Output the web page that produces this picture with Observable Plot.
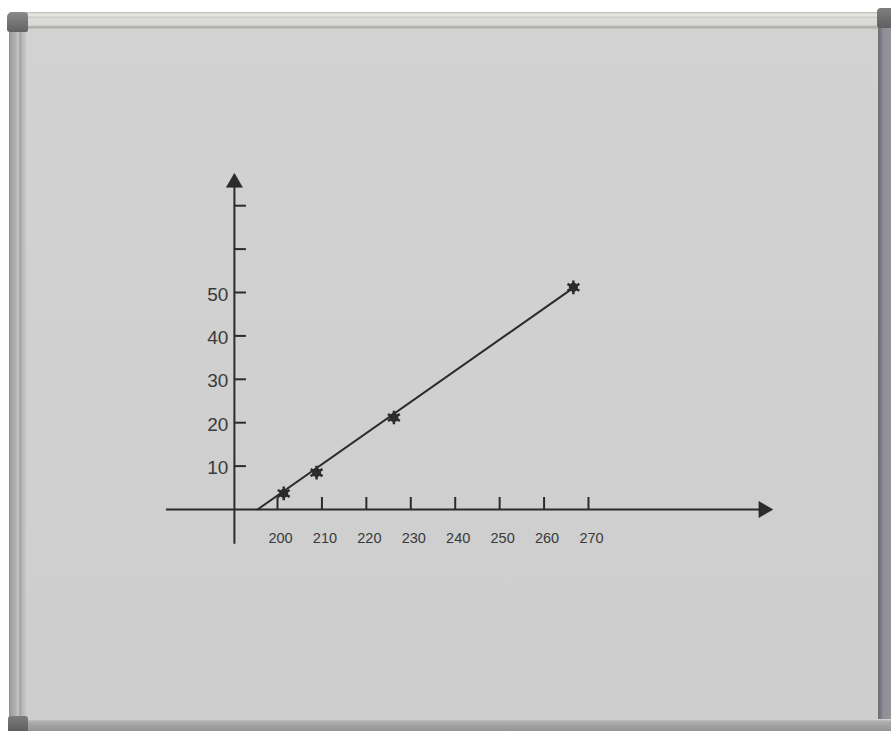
<!DOCTYPE html>
<html>
<head>
<meta charset="utf-8">
<script src="https://cdn.jsdelivr.net/npm/d3@7"></script>
<script src="https://cdn.jsdelivr.net/npm/@observablehq/plot@0.6"></script>
<style>
  html, body { margin: 0; padding: 0; background: #ffffff; }
  #wrap { position: relative; width: 891px; height: 731px; overflow: hidden; background: #ffffff; }
  .piece { position: absolute; }
  #board { left: 26px; top: 28px; width: 853px; height: 691px;
           background: linear-gradient(180deg, #d1d2d1 0%, #cfd0cf 50%, #cdcecd 100%); }
  #ftop { left: 10px; top: 12px; width: 870px; height: 17px;
          background: linear-gradient(180deg, #b8b8b4 0px, #e4e4e0 2px, #e6e6e2 4px, #c9c9c5 5px, #dcdcd8 7px, #d8d8d4 13px, #a9a9a6 15px, #c4c4c0 17px); }
  #fleft { left: 9px; top: 14px; width: 17px; height: 717px;
           background: linear-gradient(90deg, #8f8f8f 0px, #a6a6a6 3px, #b3b3b3 7px, #c8c8c8 9px, #a2a2a2 11px, #bdbdbd 14px, #c6c6c6 17px); }
  #fright { left: 878px; top: 10px; width: 13px; height: 721px;
            background: linear-gradient(90deg, #6d6d74 0px, #7a7a82 3px, #8e8e96 5px, #93939a 13px); }
  #fbottom { left: 9px; top: 719px; width: 882px; height: 12px;
             background: linear-gradient(180deg, #dcdcdc 0px, #b1b1b1 2px, #a3a3a3 6px, #959595 12px); }
  #captl { left: 7px; top: 12px; width: 21px; height: 20px; border-radius: 5px 4px 2px 3px;
           background: linear-gradient(180deg, #8a8a8a, #626262); }
  #captr { left: 877px; top: 8px; width: 14px; height: 20px; border-radius: 4px 0 0 3px;
           background: linear-gradient(180deg, #7e7e7e, #5f5f62); }
  #capbl { left: 8px; top: 716px; width: 20px; height: 15px; border-radius: 3px 3px 0 0;
           background: linear-gradient(180deg, #7c7c7c, #5e5e5e); }
  #chart { position: absolute; left: 0; top: 0; }
  #chart svg { background: transparent !important; }
</style>
</head>
<body>
<div id="wrap">
  <div class="piece" id="board"></div>
  <div class="piece" id="ftop"></div>
  <div class="piece" id="fleft"></div>
  <div class="piece" id="fright"></div>
  <div class="piece" id="fbottom"></div>
  <div class="piece" id="captl"></div>
  <div class="piece" id="captr"></div>
  <div class="piece" id="capbl"></div>
  <div id="chart"></div>
</div>
<script>
// ---- data ----
const xTicks = [200, 210, 220, 230, 240, 250, 260, 270];
const xTickLabels = ["200", "210", "220", "230", "240", "250", "260", "270"];
const yTicks = [10, 20, 30, 40, 50, 60, 70];
const yLabelValues = [10, 20, 30, 40, 50];
const yTickLabels = ["10", "20", "30", "40", "50"];
const pointX = [201.4, 208.8, 226.2, 266.6];
const pointY = [3.7, 8.5, 21.2, 51.2];
const fitX = [195.5, 266.5];
const fitY = [0, 51];
const xAxisExtent = [175, 309.4];   // horizontal axis runs along y = 0
const yAxisAt = 190.3;               // vertical axis sits at this x value
const yAxisExtent = [-8, 75.3];

// ---- tables built from the arrays ----
const points = pointX.map((x, i) => ({x, y: pointY[i]}));
const fit = fitX.map((x, i) => ({x, y: fitY[i]}));
const xLab = xTicks.map((v, i) => ({v, label: xTickLabels[i]}));
const yLab = yLabelValues.map((v, i) => ({v, label: yTickLabels[i]}));

const ink = "#2b2b2b";
const textInk = "#3a3a3a";
const pxPerX = (588 - 277) / 70;
const pxPerY = (509 - 292) / 50;
const tickPx = 12;

const chart = Plot.plot({
  width: 891,
  height: 731,
  margin: 0,
  style: {background: "transparent", fontFamily: "'Liberation Sans', Arial, sans-serif"},
  x: {domain: [200, 270], range: [277, 588], axis: null},
  y: {domain: [0, 50], range: [509, 292], axis: null},
  marks: [
    // horizontal axis
    Plot.ruleY([0], {x1: xAxisExtent[0], x2: xAxisExtent[1], stroke: ink, strokeWidth: 2}),
    // vertical axis
    Plot.ruleX([yAxisAt], {y1: yAxisExtent[0], y2: yAxisExtent[1], stroke: ink, strokeWidth: 2}),
    // arrowheads
    Plot.dot([{x: yAxisAt, y: yAxisExtent[1]}], {x: "x", y: "y", symbol: "triangle", r: 6, fill: ink, stroke: ink, strokeWidth: 0.5}),
    Plot.dot([{x: xAxisExtent[1], y: 0}], {x: "x", y: "y", symbol: "triangle", r: 6, rotate: 90, fill: ink, stroke: ink, strokeWidth: 0.5}),
    // x ticks (upward from axis)
    Plot.ruleX(xTicks, {x: d => d, y1: 0, y2: tickPx / pxPerY, stroke: ink, strokeWidth: 2}),
    // y ticks (rightward from axis)
    Plot.ruleY(yTicks, {y: d => d, x1: yAxisAt, x2: yAxisAt + tickPx / pxPerX, stroke: ink, strokeWidth: 2}),
    // x labels
    Plot.text(xLab, {x: "v", y: 0, text: "label", dy: 29, dx: 3, fontSize: 14.5, fill: textInk}),
    // y labels
    Plot.text(yLab, {x: yAxisAt, y: "v", text: "label", textAnchor: "end", dx: -6, dy: 2, fontSize: 19, fill: textInk}),
    // fitted line
    Plot.line(fit, {x: "x", y: "y", stroke: ink, strokeWidth: 2}),
    // data points (hand-drawn blobs)
    Plot.dot(points, {x: "x", y: "y", r: 4.5, fill: ink, stroke: "none"}),
    Plot.dot(points, {x: "x", y: "y", r: 6.5, symbol: "asterisk", stroke: ink, strokeWidth: 2.5})
  ]
});
document.getElementById("chart").appendChild(chart);
</script>
</body>
</html>
